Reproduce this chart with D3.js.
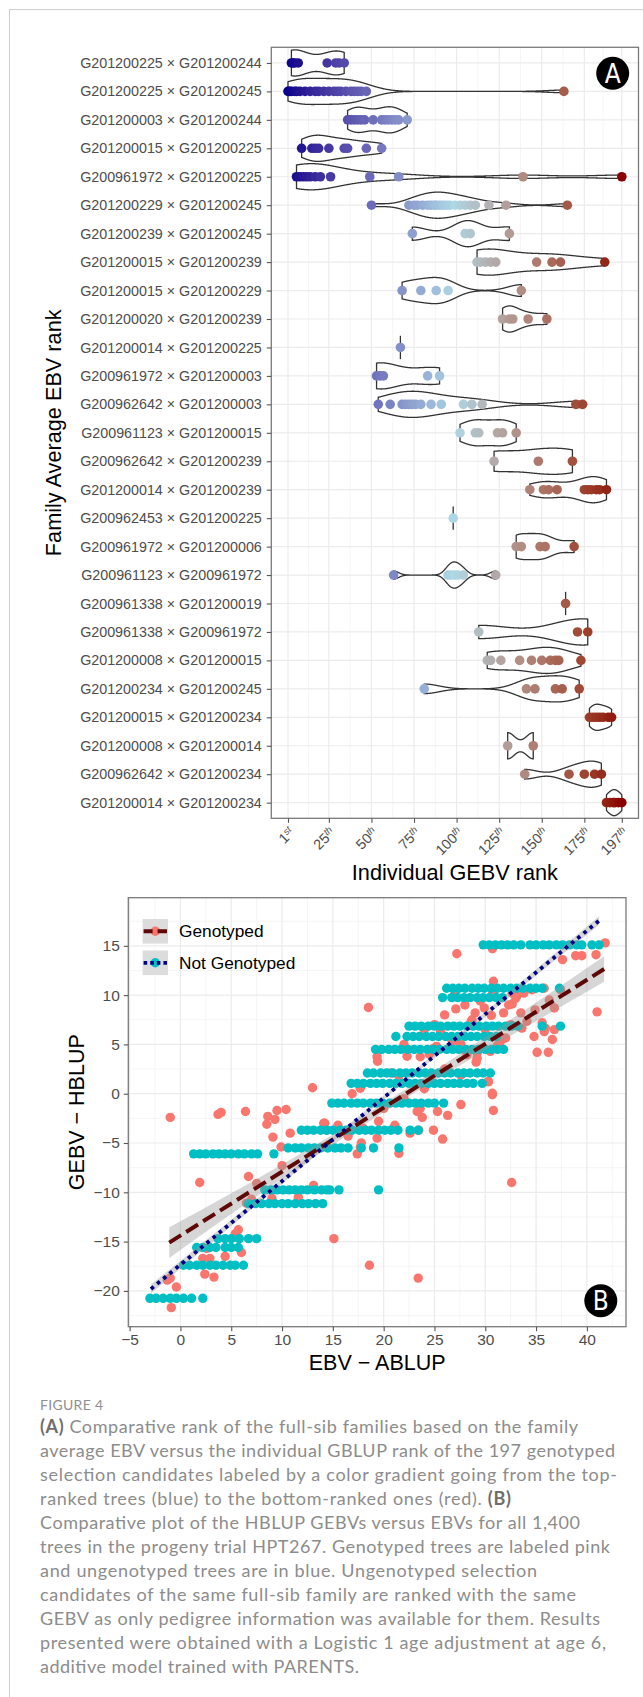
<!DOCTYPE html>
<html>
<head>
<meta charset="utf-8">
<script src="https://cdn.jsdelivr.net/npm/d3@7"></script>
<style>
html, body { margin: 0; padding: 0; background: #fff; }
svg { display: block; }
</style>
</head>
<body>
<svg id="fig" width="643" height="1697"></svg>
<script>
// ---------- DATA: panel A (family vs individual GEBV rank) ----------
const families = [
  "G201200225 × G201200244", "G201200225 × G201200245", "G201200003 × G201200244",
  "G201200015 × G201200225", "G200961972 × G201200225", "G201200229 × G201200245",
  "G201200239 × G201200245", "G201200015 × G201200239", "G201200015 × G201200229",
  "G201200020 × G201200239", "G201200014 × G201200225", "G200961972 × G201200003",
  "G200962642 × G201200003", "G200961123 × G201200015", "G200962642 × G201200239",
  "G201200014 × G201200239", "G200962453 × G201200225", "G200961972 × G201200006",
  "G200961123 × G200961972", "G200961338 × G201200019", "G200961338 × G200961972",
  "G201200008 × G201200015", "G201200234 × G201200245", "G201200015 × G201200234",
  "G201200008 × G201200014", "G200962642 × G201200234", "G201200014 × G201200234"
];
const familyRanks = [
  [3, 4, 5, 7, 24, 29, 31, 34],
  [1, 2, 3, 5, 6, 8, 11, 14, 17, 19, 22, 25, 28, 30, 32, 35, 38, 40, 42, 44, 47, 163],
  [36, 38, 40, 42, 44, 46, 51, 56, 58, 60, 62, 64, 66, 71],
  [9, 15, 17, 19, 25, 34, 36, 47, 56],
  [6, 8, 10, 12, 14, 17, 20, 26, 49, 66, 139, 197],
  [50, 72, 75, 77, 80, 83, 85, 87, 88, 90, 92, 94, 96, 99, 102, 105, 108, 111, 119, 129, 165],
  [74, 105, 108, 131],
  [112, 114, 117, 120, 123, 147, 156, 161, 187],
  [68, 79, 88, 95, 138],
  [127, 131, 133, 142, 153],
  [67],
  [53, 55, 57, 83, 90],
  [54, 61, 68, 70, 72, 74, 76, 79, 85, 91, 104, 109, 115, 170, 174],
  [102, 111, 113, 124, 127, 135],
  [122, 148, 168],
  [143, 151, 154, 159, 175, 177, 179, 182, 184, 188],
  [98],
  [135, 138, 149, 152, 169],
  [63, 95, 97, 99, 101, 104, 123],
  [164],
  [113, 171, 177],
  [118, 120, 126, 137, 144, 150, 155, 158, 160, 173],
  [81, 141, 146, 158, 162, 172],
  [178, 180, 182, 184, 186, 189, 191],
  [130, 145],
  [140, 166, 175, 181, 185],
  [188, 190, 192, 193, 195, 197]
];
const rankTicks = [1, 25, 50, 75, 100, 125, 150, 175, 197];

// ---------- DATA: panel B (GEBV vs EBV) ----------
const ebvTicks = [-5, 0, 5, 10, 15, 20, 25, 30, 35, 40];
const gebvTicks = [-20, -15, -10, -5, 0, 5, 10, 15];

// not genotyped: one GEBV per family band, EBVs of its members
const bandGebv = [15.1, 10.7, 9.75, 6.85, 5.8, 4.5, 2.1, 1.05, -0.95, -3.7, -5.5, -6.1, -9.75, -11.15, -14.7, -15.6, -17.4, -20.75];
const bandEbv = [
  [29.8, 30.4, 31.0, 31.6, 32.2, 32.8, 33.5, 34.4, 35.0, 35.7, 36.3, 37.0, 37.6, 38.3, 39.0, 39.5, 40.5, 41.2],
  [26.2, 26.8, 27.4, 28.0, 28.7, 29.3, 29.9, 30.6, 31.2, 31.8, 32.5, 33.1, 33.7, 34.4, 35.0, 35.6, 37.3],
  [25.8, 26.7, 27.3, 27.9, 28.5, 29.2, 29.8, 30.4, 31.1, 31.7],
  [22.5, 23.1, 23.7, 24.4, 25.0, 25.6, 26.3, 26.9, 27.5, 28.2, 28.8, 29.4, 30.1, 30.7, 31.3, 32.0, 32.6, 33.2, 35.6, 37.4],
  [21.2, 22.3, 22.9, 23.5, 24.2, 24.8, 25.4, 26.1, 26.7, 27.3, 28.0, 28.6, 29.2, 29.9, 30.5, 31.1],
  [19.2, 19.8, 20.5, 21.1, 21.7, 22.4, 23.0, 23.6, 24.3, 24.9, 25.5, 26.2, 26.8, 27.4, 28.1, 28.7, 29.3, 30.0, 30.6, 31.2, 31.8],
  [18.4, 19.0, 19.7, 20.3, 20.9, 21.6, 22.2, 22.8, 23.5, 24.1, 24.7, 25.4, 26.0, 26.6, 27.3, 27.9, 28.5, 29.2, 29.8, 30.5],
  [16.8, 17.4, 18.0, 18.7, 19.3, 19.9, 20.6, 21.2, 21.8, 22.5, 23.1, 23.7, 24.4, 25.0, 25.6, 26.3, 26.9, 27.5, 28.2, 28.8, 29.7],
  [14.9, 15.5, 16.1, 16.8, 17.4, 18.0, 18.7, 19.3, 19.9, 20.6, 21.2, 21.8, 22.5, 23.1, 23.7, 24.4, 25.0, 25.9],
  [11.9, 12.5, 13.1, 13.8, 14.4, 15.0, 15.7, 16.3, 16.9, 17.6, 18.2, 18.8, 19.5, 20.1, 20.7, 21.4, 22.6, 23.4],
  [10.6, 11.3, 11.9, 12.6, 13.2, 13.8, 14.5, 15.2, 15.8, 16.5, 17.8, 19.0, 21.5],
  [1.3, 1.9, 2.5, 3.2, 3.8, 4.4, 5.0, 5.7, 6.3, 7.0, 7.6, 9.2],
  [8.3, 8.9, 9.5, 10.1, 10.7, 11.3, 11.9, 12.5, 13.2, 13.9, 14.4, 14.7, 15.6, 19.5],
  [6.7, 7.4, 8.0, 8.7, 9.3, 10.0, 10.6, 11.3, 12.0, 12.6, 13.3, 14.0],
  [3.7, 4.4, 5.0, 5.8, 6.7, 7.5],
  [1.6, 2.2, 2.9, 3.5, 4.4, 5.0, 5.7],
  [0.3, 0.9, 1.6, 2.2, 2.9, 3.5, 4.2, 4.9, 5.4, 6.2],
  [-3.0, -2.4, -1.7, -1.0, -0.4, 0.3, 1.1, 2.2]
];

// genotyped trees [EBV, GEBV]
const genotyped = [
  [-1.0, -2.4], [3.7, -2.1], [4.0, -1.9], [6.4, -1.8], [8.5, -3.1], [8.6, -2.3], [9.5, -1.7], [9.3, -2.6],
  [10.4, -1.6], [9.1, -4.4], [10.8, -4.0], [9.9, -5.4], [13.0, 0.6], [1.9, -9.0], [6.7, -8.4], [10.0, -7.3],
  [13.1, -9.3], [14.2, -3.0], [7.5, -9.1], [7.0, -10.7], [9.0, -10.6], [11.6, -10.5], [6.5, -11.1],
  [5.7, -13.8], [5.4, -14.2], [5.6, -14.6], [2.6, -15.7], [4.4, -16.5], [6.0, -16.1], [2.2, -16.7], [2.9, -16.7],
  [2.4, -18.3], [3.3, -18.6], [-1.0, -18.7], [-1.3, -18.9], [-0.4, -19.6], [-0.9, -21.7],
  [15.1, -14.7], [18.6, -17.4], [23.4, -18.7], [32.6, -9.0], [18.5, 8.75], [27.2, 14.2],
  [16.9, 0.0], [17.7, 0.55], [17.8, -5.0], [17.4, -6.1], [17.7, -5.4], [19.35, -4.5], [21.1, -3.2], [21.5, -6.05],
  [22.6, -4.0], [23.45, -3.7], [23.8, -2.4], [24.9, -3.7], [25.8, -4.6], [25.3, -1.8], [26.3, -2.2], [27.6, -1.1],
  [30.7, -0.1], [30.8, -1.7], [30.3, 1.2], [29.1, 3.2], [19.4, 3.3], [19.35, 3.75], [22.3, 3.8], [23.6, 3.75],
  [20.7, 2.1], [23.3, -1.8], [23.6, -1.5], [14.1, -3.0], [14.4, -3.7], [15.5, -3.2], [16.5, -4.3], [18.0, -3.5],
  [19.5, -2.8], [20.0, -1.5], [22.0, -0.5], [24.0, 0.5], [26.0, 2.5], [27.6, 1.9], [21.5, 1.8], [24.5, 4.0],
  [24.9, 4.6], [27.9, 4.5], [28.2, 3.95],
  [27.1, 8.6], [30.7, 10.4], [30.6, 7.95], [32.65, 9.1], [33.1, 9.9], [28.7, 7.5], [27.6, 5.0], [25.6, 6.3],
  [26.6, 5.65], [31.5, 5.3], [26.9, 5.1], [25.2, 4.8], [29.9, 8.7], [28.6, 7.3],
  [37.6, 13.6], [38.9, 14.0], [39.5, 14.0], [40.9, 14.1], [41.8, 15.3], [41.0, 8.3], [30.8, 11.4], [32.65, 10.2],
  [33.0, 9.7], [33.8, 10.2], [34.6, 10.55], [35.8, 10.7], [36.3, 9.5], [36.8, 8.7], [34.9, 8.5], [37.4, 10.55],
  [35.6, 7.2], [35.9, 6.65], [34.1, 7.35], [33.6, 6.65], [34.8, 5.8], [35.8, 6.3], [36.8, 6.5], [36.6, 5.5],
  [35.1, 4.2], [36.2, 4.2], [32.0, 5.65], [30.5, 4.3], [29.2, 3.6], [30.3, 1.25], [30.7, 0.05], [29.2, 4.1],
  [31.2, 4.9], [30.7, 14.7], [25.0, 7.0], [26.0, 8.0], [24.0, 6.5], [22.0, 5.0], [29.0, 8.2], [28.0, 9.0],
  [27.0, 10.1], [29.5, 9.4], [31.8, 8.2], [32.5, 7.0], [33.5, 8.2], [30.0, 6.5], [32.3, 9.0], [30.9, 9.9]
];

// fitted lines (end points) and standard error half-widths
const genoFitX = [-1.1, 41.7], genoFitY = [-15.1, 12.65];
const genoSeX = [-1.1, 5, 10, 15, 20, 25, 30, 35, 41.7];
const genoSe = [1.55, 1.05, 0.72, 0.52, 0.45, 0.5, 0.68, 0.95, 1.3];
const notGenoFitX = [-2.9, 41.2], notGenoFitY = [-19.8, 17.55];
const notGenoSeX = [-2.9, 10, 20, 30, 41.2];
const notGenoSe = [0.45, 0.25, 0.18, 0.25, 0.45];

const legendLabels = ["Genotyped", "Not Genotyped"];

const captionLines = [
  "(A) Comparative rank of the full-sib families based on the family",
  "average EBV versus the individual GBLUP rank of the 197 genotyped",
  "selection candidates labeled by a color gradient going from the top-",
  "ranked trees (blue) to the bottom-ranked ones (red). (B)",
  "Comparative plot of the HBLUP GEBVs versus EBVs for all 1,400",
  "trees in the progeny trial HPT267. Genotyped trees are labeled pink",
  "and ungenotyped trees are in blue. Ungenotyped selection",
  "candidates of the same full-sib family are ranked with the same",
  "GEBV as only pedigree information was available for them. Results",
  "presented were obtained with a Logistic 1 age adjustment at age 6,",
  "additive model trained with PARENTS."
];
const captionWidths = [538, 575, 577, 471, 540, 570, 497, 536, 560, 566, 319];

// ---------- SETUP ----------
const font = "'Liberation Sans', Arial, Helvetica, sans-serif";
const svg = d3.select("#fig");

svg.append("rect")
  .attr("x", 9.5).attr("y", 9.5)
  .attr("width", 700).attr("height", 1800)
  .attr("fill", "#fff").attr("stroke", "#cfcfcf");

// ========== PANEL A ==========
const A = {left: 271.3, top: 47.3, right: 638.5, bottom: 818.3};

const xA = d3.scaleLinear().domain([-8.8, 206.8]).range([A.left, A.right]);
const yA = d3.scalePoint().domain(families).range([A.top, A.bottom]).padding(0.55);
const stepA = yA.step();
const colorA = d3.scaleLinear()
  .domain([1, 99, 197])
  .range(["darkblue", "lightblue", "darkred"])
  .interpolate(d3.interpolateLab);

const gA = svg.append("g");

// grid
const minorA = d3.range(0, rankTicks.length - 1).map(i => (rankTicks[i] + rankTicks[i + 1]) / 2);
gA.selectAll(".minorx").data(minorA).join("line")
  .attr("x1", d => xA(d)).attr("x2", d => xA(d))
  .attr("y1", A.top).attr("y2", A.bottom)
  .attr("stroke", "#f3f3f3").attr("stroke-width", 0.8);
gA.selectAll(".majorx").data(rankTicks).join("line")
  .attr("x1", d => xA(d)).attr("x2", d => xA(d))
  .attr("y1", A.top).attr("y2", A.bottom)
  .attr("stroke", "#ebebeb").attr("stroke-width", 1.2);
gA.selectAll(".majory").data(families).join("line")
  .attr("x1", A.left).attr("x2", A.right)
  .attr("y1", d => yA(d)).attr("y2", d => yA(d))
  .attr("stroke", "#ebebeb").attr("stroke-width", 1.2);

// violins (gaussian kde, bw.nrd0, trimmed, scaled to equal width)
function bwNrd0(v) {
  const s = v.slice().sort(d3.ascending);
  const sd = d3.deviation(s);
  const iqr = d3.quantile(s, 0.75) - d3.quantile(s, 0.25);
  let lo = Math.min(sd, iqr / 1.34);
  if (!(lo > 0)) lo = sd || Math.abs(s[0]) || 1;
  return 0.9 * lo * Math.pow(s.length, -0.2);
}
function kde(v) {
  const bw = bwNrd0(v);
  const [lo, hi] = d3.extent(v);
  const grid = d3.range(512).map(i => lo + (hi - lo) * i / 511);
  return grid.map(g => [g, d3.sum(v, x => Math.exp(-0.5 * ((g - x) / bw) ** 2))]);
}

const halfW = 0.46 * stepA;
families.forEach((fam, i) => {
  const ranks = familyRanks[i];
  const cy = yA(fam);
  if (ranks.length < 2) {
    gA.append("line")
      .attr("x1", xA(ranks[0])).attr("x2", xA(ranks[0]))
      .attr("y1", cy - 0.41 * stepA).attr("y2", cy + 0.41 * stepA)
      .attr("stroke", "#333").attr("stroke-width", 1.3);
    return;
  }
  const dens = kde(ranks);
  const dmax = d3.max(dens, d => d[1]);
  const area = d3.area()
    .x(d => xA(d[0]))
    .y0(d => cy - d[1] / dmax * halfW)
    .y1(d => cy + d[1] / dmax * halfW);
  gA.append("path")
    .attr("d", area(dens) + "Z")
    .attr("fill", "#fff")
    .attr("stroke", "#333")
    .attr("stroke-width", 1.3);
});

// dots
families.forEach((fam, i) => {
  gA.append("g").selectAll("circle").data(familyRanks[i]).join("circle")
    .attr("cx", d => xA(d))
    .attr("cy", yA(fam))
    .attr("r", 4.8)
    .attr("fill", d => colorA(d));
});

// border
gA.append("rect")
  .attr("x", A.left).attr("y", A.top)
  .attr("width", A.right - A.left).attr("height", A.bottom - A.top)
  .attr("fill", "none").attr("stroke", "#7a7a7a").attr("stroke-width", 1.3);

// y axis
const yAxisA = gA.append("g")
  .attr("transform", `translate(${A.left},0)`)
  .call(d3.axisLeft(yA).tickSize(4.5).tickPadding(5));
yAxisA.select(".domain").remove();
yAxisA.selectAll("line").attr("stroke", "#555").attr("stroke-width", 1.1);
yAxisA.selectAll("text")
  .attr("font-family", font).attr("font-size", 14.3).attr("fill", "#4d4d4d");

// x axis with ordinal superscripts
const xAxisA = gA.append("g")
  .attr("transform", `translate(0,${A.bottom})`)
  .call(d3.axisBottom(xA).tickValues(rankTicks).tickSize(4.5).tickFormat(""));
xAxisA.select(".domain").remove();
xAxisA.selectAll("line").attr("stroke", "#555").attr("stroke-width", 1.1);

rankTicks.forEach(t => {
  const txt = gA.append("text")
    .attr("transform", `translate(${xA(t)},${A.bottom + 8}) rotate(-45)`)
    .attr("text-anchor", "end")
    .attr("font-family", font)
    .attr("fill", "#4d4d4d");
  txt.append("tspan").attr("dy", "0.72em").attr("font-size", 14.3).text(t);
  txt.append("tspan").attr("dy", "-0.5em").attr("font-size", 9.5).attr("font-style", "italic")
    .text(t === 1 ? "st" : "th");
});

// titles
gA.append("text")
  .attr("x", (A.left + A.right) / 2).attr("y", 880)
  .attr("text-anchor", "middle")
  .attr("font-family", font).attr("font-size", 21.7)
  .text("Individual GEBV rank");
gA.append("text")
  .attr("transform", `translate(61,${(A.top + A.bottom) / 2}) rotate(-90)`)
  .attr("text-anchor", "middle")
  .attr("font-family", font).attr("font-size", 21.7)
  .text("Family Average EBV rank");

function badge(cx, cy, letter) {
  svg.append("circle").attr("cx", cx).attr("cy", cy).attr("r", 16.5).attr("fill", "#000");
  svg.append("text")
    .attr("x", cx).attr("y", cy + 9.5)
    .attr("text-anchor", "middle")
    .attr("font-family", "'Liberation Sans Narrow', 'DejaVu Sans Condensed', sans-serif")
    .attr("font-size", 26)
    .attr("fill", "#fff")
    .text(letter);
}
badge(612.7, 73.3, "A");

// ========== PANEL B ==========
const B = {left: 128.3, top: 897.7, right: 626, bottom: 1326.7};
const xB = d3.scaleLinear().domain([-5.13, 43.85]).range([B.left, B.right]);
const yB = d3.scaleLinear().domain([-23.63, 19.88]).range([B.bottom, B.top]);
const gB = svg.append("g");

const minorXB = ebvTicks.map(t => t + 2.5);
const minorYB = [-22.5].concat(gebvTicks.map(t => t + 2.5));
gB.selectAll(".mx").data(minorXB).join("line")
  .attr("x1", d => xB(d)).attr("x2", d => xB(d)).attr("y1", B.top).attr("y2", B.bottom)
  .attr("stroke", "#f3f3f3").attr("stroke-width", 0.8);
gB.selectAll(".my").data(minorYB).join("line")
  .attr("y1", d => yB(d)).attr("y2", d => yB(d)).attr("x1", B.left).attr("x2", B.right)
  .attr("stroke", "#f3f3f3").attr("stroke-width", 0.8);
gB.selectAll(".Mx").data(ebvTicks).join("line")
  .attr("x1", d => xB(d)).attr("x2", d => xB(d)).attr("y1", B.top).attr("y2", B.bottom)
  .attr("stroke", "#ebebeb").attr("stroke-width", 1.2);
gB.selectAll(".My").data(gebvTicks).join("line")
  .attr("y1", d => yB(d)).attr("y2", d => yB(d)).attr("x1", B.left).attr("x2", B.right)
  .attr("stroke", "#ebebeb").attr("stroke-width", 1.2);

const pink = "#F8766D", cyan = "#00BFC4";
const ptR = 4.7;

gB.append("g").selectAll("circle").data(genotyped).join("circle")
  .attr("cx", d => xB(d[0])).attr("cy", d => yB(d[1])).attr("r", ptR).attr("fill", pink);

const notGeno = [];
bandGebv.forEach((g, i) => bandEbv[i].forEach(e => notGeno.push([e, g])));
gB.append("g").selectAll("circle").data(notGeno).join("circle")
  .attr("cx", d => xB(d[0])).attr("cy", d => yB(d[1])).attr("r", ptR).attr("fill", cyan);

// ribbons + fitted lines
function fitAt(fx, fy, x) {
  return fy[0] + (fy[1] - fy[0]) * (x - fx[0]) / (fx[1] - fx[0]);
}
function ribbon(sx, se, fx, fy) {
  const pts = sx.map((x, i) => [x, fitAt(fx, fy, x), se[i]]);
  gB.append("path")
    .attr("d", d3.area()
      .x(d => xB(d[0]))
      .y0(d => yB(d[1] - d[2]))
      .y1(d => yB(d[1] + d[2]))
      .curve(d3.curveMonotoneX)(pts))
    .attr("fill", "#999").attr("fill-opacity", 0.4);
}
ribbon(notGenoSeX, notGenoSe, notGenoFitX, notGenoFitY);
ribbon(genoSeX, genoSe, genoFitX, genoFitY);

const lineB = d3.line().x(d => xB(d[0])).y(d => yB(d[1]));
gB.append("path")
  .attr("d", lineB(genoFitX.map((x, i) => [x, genoFitY[i]])))
  .attr("fill", "none").attr("stroke", "#5e0808").attr("stroke-width", 4)
  .attr("stroke-dasharray", "14,6");
gB.append("path")
  .attr("d", lineB(notGenoFitX.map((x, i) => [x, notGenoFitY[i]])))
  .attr("fill", "none").attr("stroke", "#000080").attr("stroke-width", 3.8)
  .attr("stroke-dasharray", "3.6,4.4");

// border
gB.append("rect")
  .attr("x", B.left).attr("y", B.top)
  .attr("width", B.right - B.left).attr("height", B.bottom - B.top)
  .attr("fill", "none").attr("stroke", "#7a7a7a").attr("stroke-width", 1.3);

// axes
const yAxisB = gB.append("g").attr("transform", `translate(${B.left},0)`)
  .call(d3.axisLeft(yB).tickValues(gebvTicks).tickSize(4.5).tickPadding(4));
const xAxisB = gB.append("g").attr("transform", `translate(0,${B.bottom})`)
  .call(d3.axisBottom(xB).tickValues(ebvTicks).tickSize(4.5).tickPadding(3));
[yAxisB, xAxisB].forEach(ax => {
  ax.select(".domain").remove();
  ax.selectAll("line").attr("stroke", "#555").attr("stroke-width", 1.1);
  ax.selectAll("text").attr("font-family", font).attr("font-size", 15.5).attr("fill", "#4d4d4d");
});

gB.append("text")
  .attr("x", (B.left + B.right) / 2).attr("y", 1370)
  .attr("text-anchor", "middle")
  .attr("font-family", font).attr("font-size", 21.5)
  .text("EBV − ABLUP");
gB.append("text")
  .attr("transform", `translate(84,${(B.top + B.bottom) / 2}) rotate(-90)`)
  .attr("text-anchor", "middle")
  .attr("font-family", font).attr("font-size", 21.5)
  .text("GEBV − HBLUP");

// legend
const keyX = 142.6, keyW = 25.4, keyH = 24.6;
const keyY = [919, 950.5];
const keyFill = [pink, cyan];
keyY.forEach((ky, i) => {
  const cy = ky + keyH / 2;
  gB.append("rect").attr("x", keyX).attr("y", ky).attr("width", keyW).attr("height", keyH).attr("fill", "#dcdcdc");
  gB.append("circle").attr("cx", keyX + keyW / 2).attr("cy", cy).attr("r", ptR).attr("fill", keyFill[i]);
  const ln = gB.append("line")
    .attr("x1", keyX + 1).attr("x2", keyX + keyW - 1).attr("y1", cy).attr("y2", cy);
  if (i === 0) ln.attr("stroke", "#5e0808").attr("stroke-width", 4).attr("stroke-dasharray", "9,5,14");
  else ln.attr("stroke", "#000080").attr("stroke-width", 3.8).attr("stroke-dasharray", "3.6,3");
  gB.append("text")
    .attr("x", 179).attr("y", cy).attr("dy", "0.35em")
    .attr("font-family", font).attr("font-size", 17.3)
    .text(legendLabels[i]);
});

badge(600.8, 1300.7, "B");

// ========== CAPTION ==========
const capFont = "Lato, 'Open Sans', sans-serif";
svg.append("text")
  .attr("x", 40).attr("y", 1409.5)
  .attr("font-family", capFont).attr("font-size", 14)
  .attr("fill", "#8f8f8f").attr("letter-spacing", 0.3)
  .text("FIGURE 4");

captionLines.forEach((line, i) => {
  const t = svg.append("text")
    .attr("x", 40).attr("y", 1433.3 + i * 23.94)
    .attr("font-family", capFont).attr("font-size", 18)
    .attr("fill", "#8c8c8c")
    .attr("textLength", captionWidths[i])
    .attr("lengthAdjust", "spacing");
  line.split(/(\(A\)|\(B\))/).filter(s => s.length).forEach(part => {
    const bold = part === "(A)" || part === "(B)";
    t.append("tspan")
      .attr("font-weight", bold ? 700 : 400)
      .attr("fill", bold ? "#6e6e6e" : null)
      .text(part);
  });
});
</script>
</body>
</html>
